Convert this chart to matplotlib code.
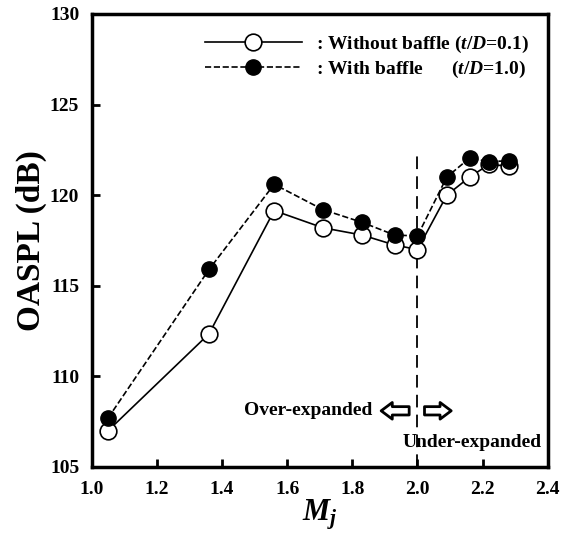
import matplotlib
matplotlib.use("Agg")
import matplotlib.pyplot as plt

# Fontes tipo Times (negrito)
plt.rcParams['font.family'] = 'Liberation Serif'
plt.rcParams['font.weight'] = 'bold'
plt.rcParams['axes.labelweight'] = 'bold'
plt.rcParams['mathtext.fontset'] = 'custom'
plt.rcParams['mathtext.rm'] = 'Liberation Serif:bold'
plt.rcParams['mathtext.it'] = 'Liberation Serif:italic:bold'
plt.rcParams['mathtext.bf'] = 'Liberation Serif:bold'

# Dados
mj = [1.05, 1.36, 1.56, 1.71, 1.83, 1.93, 2.00, 2.09, 2.16, 2.22, 2.28]
sem_defletor = [107.0, 112.35, 119.15, 118.2, 117.8, 117.25, 117.0, 120.0, 121.0, 121.7, 121.6]
com_defletor = [107.7, 115.9, 120.6, 119.2, 118.5, 117.8, 117.75, 121.0, 122.05, 121.85, 121.9]

rotulos = [": Without baffle ($t$/$D$=0.1)",
           ": With baffle      ($t$/$D$=1.0)"]

fig = plt.figure(figsize=(5.7, 5.38), dpi=100)
ax = fig.add_axes([0.161, 0.132, 0.800, 0.842])

ax.plot(mj, sem_defletor, '-', color='black', lw=1.2, marker='o', ms=12,
        mfc='white', mec='black', mew=1.2, label=rotulos[0], zorder=3)
ax.plot(mj, com_defletor, '--', color='black', lw=1.2, marker='o', ms=11,
        mfc='black', mec='black', label=rotulos[1], zorder=4)

# Linha vertical em Mj = 2.0
ax.plot([2.0, 2.0], [105, 122.4], '--', color='black', lw=1.3, dashes=(7, 4), zorder=2)

# Setas e textos
seta = dict(arrowstyle='simple,head_length=0.8,head_width=1.2,tail_width=0.6',
            fc='white', ec='black', lw=2)
ax.annotate('', xy=(1.880, 108.1), xytext=(1.983, 108.1), arrowprops=seta)
ax.annotate('', xy=(2.112, 108.1), xytext=(2.013, 108.1), arrowprops=seta)
ax.text(1.862, 108.1, 'Over-expanded', ha='right', va='center', fontsize=14)
ax.text(2.167, 106.35, 'Under-expanded', ha='center', va='center', fontsize=14)

ax.set_xlim(1.0, 2.4)
ax.set_ylim(105, 130)
ax.set_xticks([1.0, 1.2, 1.4, 1.6, 1.8, 2.0, 2.2, 2.4])
ax.set_yticks([105, 110, 115, 120, 125, 130])
ax.tick_params(direction='in', length=6, width=2, labelsize=14)
ax.tick_params(axis='y', pad=9)
ax.tick_params(axis='x', pad=10)
for s in ax.spines.values():
    s.set_linewidth(2.5)

ax.set_xlabel('$M_j$', fontsize=22, labelpad=0)
ax.set_ylabel('OASPL (dB)', fontsize=24, fontweight='bold', labelpad=2)

ax.legend(loc='upper right', frameon=False, fontsize=14, handlelength=5.0,
          handletextpad=0.7, labelspacing=0.2, borderaxespad=0.5,
          borderpad=0.5)

fig.savefig('out.png', dpi=100)
